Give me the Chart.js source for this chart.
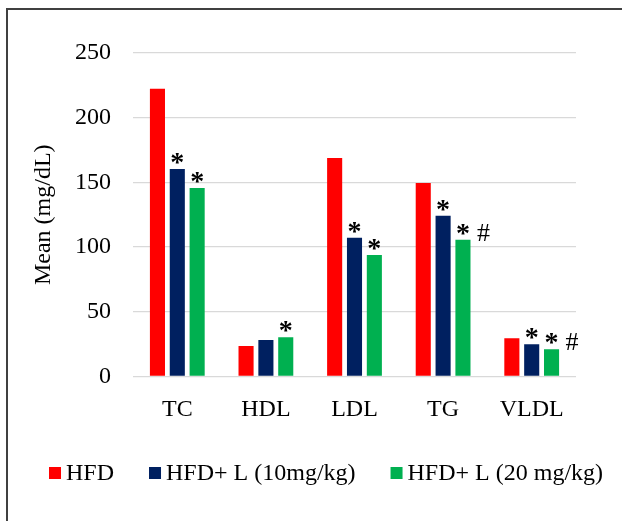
<!DOCTYPE html>
<html>
<head>
<meta charset="utf-8">
<script src="https://cdn.jsdelivr.net/npm/chart.js@4"></script>
<style>
    html, body { margin: 0; padding: 0; background: #fff; }
    #wrap { position: relative; width: 622px; height: 521px; overflow: hidden; }
    #frame { position: absolute; left: 6px; top: 8px; width: 700px; height: 600px; border: 2px solid #404040; pointer-events: none; }
</style>
</head>
<body>
<div id="wrap">
    <canvas id="myChart"></canvas>
    <div id="frame"></div>
</div>
<script>
const categories = ["TC", "HDL", "LDL", "TG", "VLDL"];
const seriesNames = ["HFD", "HFD+ L (10mg/kg)", "HFD+ L (20 mg/kg)"];
const hfd = [222.3, 23.6, 168.9, 149.5, 29.6];
const hfdL10 = [160.4, 28.3, 107.2, 124.2, 24.9];
const hfdL20 = [145.7, 30.3, 93.8, 105.6, 21.0];
// significance marks above the bars (* vs HFD, # vs 10mg/kg)
const marksHfd = ["", "", "", "", ""];
const marksL10 = ["*", "", "*", "*", "*"];
const marksL20 = ["*", "*", "*", "*#", "*#"];
const yTicks = [0, 50, 100, 150, 200, 250];

const colors = ["#FF0000", "#002060", "#00B050"];
const serif = "'Liberation Serif', 'Times New Roman', serif";

const marksPlugin = {
    id: "marks",
    afterDatasetsDraw(chart) {
        const ctx = chart.ctx;
        const allMarks = [marksHfd, marksL10, marksL20];
        ctx.save();
        ctx.fillStyle = "#000";
        ctx.textBaseline = "alphabetic";
        allMarks.forEach((marks, i) => {
            chart.getDatasetMeta(i).data.forEach((bar, j) => {
                const m = marks[j];
                if (!m) return;
                ctx.font = "bold 28px " + serif;
                ctx.textAlign = "center";
                ctx.fillText("*", bar.x, bar.y + 2);
                if (m.includes("#")) {
                    ctx.font = "26px " + serif;
                    ctx.textAlign = "left";
                    ctx.fillText("#", bar.x + 14, bar.y + 1);
                }
            });
        });
        ctx.restore();
    },
};

// legend drawn by hand: small square, short gap, label
const legendPlugin = {
    id: "bottomLegend",
    afterDraw(chart) {
        const ctx = chart.ctx;
        let x = 49;
        const y = 473;
        ctx.save();
        ctx.font = "24px " + serif;
        ctx.textBaseline = "middle";
        ctx.textAlign = "left";
        chart.data.datasets.forEach((ds) => {
            ctx.fillStyle = ds.backgroundColor;
            ctx.fillRect(x, y - 6, 12, 12);
            ctx.fillStyle = "#000";
            ctx.fillText(ds.label, x + 17, y + 1);
            x += 17 + ctx.measureText(ds.label).width + 35;
        });
        ctx.restore();
    },
};

const ctx = document.getElementById("myChart");

new Chart(ctx, {
    type: "bar",
    data: {
        labels: categories,
        datasets: [
            { label: seriesNames[0], data: hfd, backgroundColor: colors[0] },
            { label: seriesNames[1], data: hfdL10, backgroundColor: colors[1] },
            { label: seriesNames[2], data: hfdL20, backgroundColor: colors[2] },
        ],
    },
    options: {
        responsive: true,
        maintainAspectRatio: false,
        animation: false,
        datasets: {
            bar: { categoryPercentage: 0.672, barPercentage: 0.76 },
        },
        layout: {
            padding: { top: 53, left: 29, right: 46, bottom: 96.5 },
        },
        plugins: {
            legend: { display: false },
            tooltip: { enabled: false },
        },
        scales: {
            x: {
                grid: { display: false },
                border: { display: false },
                ticks: {
                    color: "#000",
                    padding: 11,
                    font: { family: serif, size: 24 },
                },
                afterFit(scale) {
                    scale.height = 48;
                },
            },
            y: {
                min: 0,
                max: 250,
                afterBuildTicks(scale) {
                    scale.ticks = yTicks.map((v) => ({ value: v }));
                },
                grid: { color: "#D9D9D9", lineWidth: 1.3, drawTicks: false },
                border: { display: false },
                ticks: {
                    color: "#000",
                    padding: 22,
                    font: { family: serif, size: 24 },
                },
                title: {
                    display: true,
                    text: "Mean (mg/dL)",
                    color: "#000",
                    padding: { top: 0, bottom: 0 },
                    font: { family: serif, size: 24 },
                },
                afterFit(scale) {
                    scale.width = 104;
                },
            },
        },
    },
    plugins: [marksPlugin, legendPlugin],
});
</script>
</body>
</html>
